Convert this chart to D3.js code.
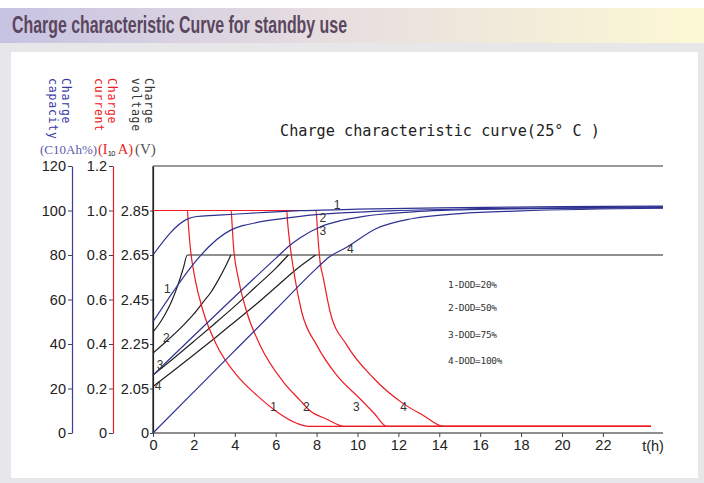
<!DOCTYPE html>
<html><head><meta charset="utf-8">
<script src="https://cdn.jsdelivr.net/npm/d3@7"></script>
<style>html,body{margin:0;padding:0;background:#fff;}svg{display:block;}</style>
</head><body>
<svg id="chart" width="704" height="483"></svg>
<script>
// ---------------- data ----------------
const hourTicks = [0,2,4,6,8,10,12,14,16,18,20,22];
const capacityTicks = [0,20,40,60,80,100,120];
const currentTicks = [0,0.2,0.4,0.6,0.8,1.0,1.2];
const voltageTicks = [0,2.05,2.25,2.45,2.65,2.85];
const legendLabels = ["1-DOD=20%","2-DOD=50%","3-DOD=75%","4-DOD=100%"];
const curveNames = ["1","2","3","4"];

// charge voltage (V) vs time (h)
const voltage1 = [[0,2.304],[0.3,2.34],[0.6,2.385],[0.9,2.44],[1.2,2.51],[1.48,2.59],[1.68,2.65],[24.94,2.65]];
const voltage2 = [[0,2.209],[0.75,2.27],[1.48,2.334],[2.0,2.385],[2.46,2.439],[2.85,2.485],[3.19,2.537],[3.5,2.59],[3.81,2.65]];
const voltage3 = [[0,2.11],[1,2.185],[2,2.262],[3,2.34],[4,2.42],[5,2.505],[6,2.59],[6.62,2.65]];
const voltage4 = [[0,2.059],[1,2.13],[2,2.202],[3,2.275],[4,2.35],[5,2.425],[6,2.505],[7,2.585],[7.95,2.65]];

// charge current (x I10 A) vs time (h)
const current1 = [[0,1],[1.68,1],[1.72,0.95],[1.81,0.846],[2.05,0.696],[2.46,0.545],[3.11,0.396],[4.09,0.26],[5.07,0.17],[6.05,0.096],[7.03,0.044],[7.6,0.03],[24.35,0.03]];
const current2 = [[0,1],[3.82,1],[3.86,0.95],[3.93,0.846],[4.17,0.696],[4.58,0.545],[5.23,0.396],[6.37,0.23],[7.19,0.147],[7.68,0.1],[8.5,0.062],[9.35,0.03],[24.35,0.03]];
const current3 = [[0,1],[6.54,1],[6.58,0.95],[6.7,0.846],[6.94,0.696],[7.27,0.545],[8.0,0.396],[8.98,0.26],[10.1,0.156],[10.8,0.09],[11.43,0.03],[24.35,0.03]];
const current4 = [[0,1],[7.97,1],[8.05,0.9],[8.17,0.77],[8.33,0.696],[8.66,0.545],[9.47,0.396],[10.8,0.245],[12.24,0.132],[13.2,0.08],[14.2,0.03],[24.35,0.03]];

// charge capacity (% C10) vs time (h)
const capacity1 = [[0,80],[1.65,96],[2.14,97.3],[3.0,97.8],[3.77,98.2],[5.5,99.2],[7.2,99.9],[10,100.6],[14,101.2],[20,101.7],[24.94,102]];
const capacity2 = [[0,50],[3.85,91.4],[4.3,93],[4.58,93.6],[5.5,95.3],[7.2,97.4],[9,98.8],[12,100],[16,100.8],[24.94,101.6]];
const capacity3 = [[0,26],[6.0,78.5],[6.7,84.4],[7.2,87.8],[8.17,92.6],[9.2,95.5],[10.3,97.4],[12.7,99.4],[16,100.5],[24.94,101.3]];
const capacity4 = [[0,0],[2,18.5],[4,37],[6,55.5],[8,74],[8.6,79],[9.47,83.5],[10.9,91.8],[12.7,96.4],[15,98.6],[18,99.8],[24.94,101]];

// curve-number label anchors (h, value in own unit)
const voltageLabelPos = [[0.7,2.5],[0.65,2.28],[0.35,2.155],[0.25,2.06]];
const currentLabelPos = [[5.9,0.12],[7.5,0.12],[9.95,0.12],[12.25,0.12]];
const capacityLabelPos = [[9.0,102.7],[8.3,96.5],[8.3,90.8],[9.65,83]];

// ---------------- drawing ----------------
const svg = d3.select("#chart");
const BLUE = "#2e3192", RED = "#ed1c24", BLACK = "#231f20";

const defs = svg.append("defs");
const grad = defs.append("linearGradient").attr("id","band").attr("x1","0").attr("x2","1");
grad.append("stop").attr("offset","0").attr("stop-color","#c6c3e2");
grad.append("stop").attr("offset","0.45").attr("stop-color","#e6dde0");
grad.append("stop").attr("offset","1").attr("stop-color","#fdf8d4");

svg.append("rect").attr("x",0).attr("y",43).attr("width",704).attr("height",440).attr("fill","#e7e7e9");
svg.append("rect").attr("x",0).attr("y",8).attr("width",704).attr("height",35).attr("fill","url(#band)");
svg.append("rect").attr("x",11).attr("y",52).attr("width",687).attr("height",426).attr("fill","#fff");
svg.append("text").attr("x",12).attr("y",33).text("Charge characteristic Curve for standby use")
  .attr("font-family","'Liberation Sans Narrow','Liberation Sans',Arial,sans-serif").attr("font-weight","bold")
  .attr("font-size",23).attr("fill","#5b4660").attr("textLength",335).attr("lengthAdjust","spacingAndGlyphs");

const x = d3.scaleLinear().domain([0,24.94]).range([153,663]);
const yCap = d3.scaleLinear().domain([0,120]).range([433,166]);
const yCur = d3.scaleLinear().domain([0,1.2]).range([433,166]);
const yVol = d3.scaleLinear().domain([0,2.05,2.85,3.05]).range([433,yCap(20),yCap(100),yCap(120)]);

const tickFont = "'Liberation Sans',Arial,sans-serif";
function styleAxis(g, lineColor){
  g.select(".domain").attr("stroke",lineColor).attr("stroke-width",1.2);
  g.selectAll(".tick line").attr("stroke","#444");
  g.selectAll(".tick text").attr("font-family",tickFont).attr("font-size",14.5).attr("fill","#222");
}
// capacity axis
svg.append("g").attr("transform","translate(72,0)")
  .call(d3.axisLeft(yCap).tickValues(capacityTicks).tickSize(4).tickSizeOuter(0).tickPadding(2))
  .call(g=>styleAxis(g,"#3b3b9c"));
// current axis
svg.append("g").attr("transform","translate(113,0)")
  .call(d3.axisLeft(yCur).tickValues(currentTicks).tickSize(4).tickSizeOuter(0).tickPadding(2)
    .tickFormat(d=>d===0?"0":d.toFixed(1)))
  .call(g=>styleAxis(g,RED));
// voltage axis (frame left)
svg.append("g").attr("transform","translate(153,0)")
  .call(d3.axisLeft(yVol).tickValues(voltageTicks).tickSize(3).tickSizeOuter(0).tickPadding(1)
    .tickFormat(d=>d===0?"0":d.toFixed(2)))
  .call(g=>styleAxis(g,BLACK));
svg.append("line").attr("x1",153).attr("x2",153).attr("y1",166).attr("y2",433).attr("stroke",BLACK).attr("stroke-width",1.2);
// top frame line
svg.append("line").attr("x1",153).attr("x2",663).attr("y1",yCap(120)).attr("y2",yCap(120)).attr("stroke","#777").attr("stroke-width",1.3);
// x axis
svg.append("g").attr("transform","translate(0,433)")
  .call(d3.axisBottom(x).tickValues(hourTicks).tickSize(4).tickSizeOuter(0).tickPadding(3))
  .call(g=>{styleAxis(g,BLACK); g.select(".domain").attr("d","M153,0H663");});
svg.append("text").attr("x",653).attr("y",451).attr("text-anchor","middle").text("t(h)")
  .attr("font-family",tickFont).attr("font-size",14.5).attr("fill","#222");

// axis headers (rotated)
const headFont = "'DejaVu Sans Mono',monospace";
function vtext(tx, ty, str, color){
  svg.append("text").attr("transform",`translate(${tx},${ty}) rotate(90)`).text(str)
    .attr("dominant-baseline","central").attr("font-family",headFont).attr("font-size",11.5)
    .attr("letter-spacing",0.8).attr("fill",color);
}
vtext(66,78,"Charge","#3b3ba6"); vtext(53,78,"capacity","#3b3ba6");
vtext(112,78,"Charge",RED); vtext(99,78,"current",RED);
vtext(149,78,"Charge","#333"); vtext(136,78,"voltage","#333");

const serif = "'Liberation Serif','Times New Roman',serif";
svg.append("text").attr("x",40).attr("y",154).text("(C10Ah%)").attr("font-family",serif).attr("font-size",13).attr("fill","#5a5aad");
const ct = svg.append("text").attr("x",98).attr("y",154).attr("font-family",serif).attr("font-size",14.5).attr("fill",RED);
ct.append("tspan").text("(I");
ct.append("tspan").text("10").attr("font-family",tickFont).attr("font-size",7.5).attr("fill","#222").attr("dy",2).attr("letter-spacing",-0.5);
ct.append("tspan").text(" A)").attr("dy",-2);
svg.append("text").attr("x",135).attr("y",154).text("(V)").attr("font-family",serif).attr("font-size",15).attr("fill","#555");

// subtitle
svg.append("text").attr("x",280).attr("y",136).text("Charge characteristic curve(25° C )")
  .attr("font-family","'DejaVu Sans Mono',monospace").attr("font-size",16).attr("fill","#222")
  .attr("textLength",320).attr("lengthAdjust","spacingAndGlyphs");

// legend
svg.append("g").selectAll("text").data(legendLabels).join("text")
  .attr("x",448).attr("y",(d,i)=>[288,311,338,364][i]).text(d=>d)
  .attr("font-family","'DejaVu Sans Mono',monospace").attr("font-size",9.5).attr("fill","#333")
  .attr("letter-spacing",-0.3);

// curves
const lineCap = d3.line().x(d=>x(d[0])).y(d=>yCap(d[1])).curve(d3.curveMonotoneX);
const lineCur = d3.line().x(d=>x(d[0])).y(d=>yCur(d[1])).curve(d3.curveMonotoneX);
const lineVol = d3.line().x(d=>x(d[0])).y(d=>yVol(d[1])).curve(d3.curveMonotoneX);

const g = svg.append("g").attr("fill","none").attr("stroke-width",1.2);
[voltage1,voltage2,voltage3,voltage4].forEach(s=>g.append("path").attr("d",lineVol(s)).attr("stroke",BLACK));
[current1,current2,current3,current4].forEach(s=>g.append("path").attr("d",lineCur(s)).attr("stroke",RED));
[capacity1,capacity2,capacity3,capacity4].forEach(s=>g.append("path").attr("d",lineCap(s)).attr("stroke",BLUE));

// curve number labels
const lab = svg.append("g").attr("font-family",tickFont).attr("font-size",12).attr("fill","#333").attr("text-anchor","middle");
voltageLabelPos.forEach((p,i)=>lab.append("text").attr("x",x(p[0])).attr("y",yVol(p[1])).attr("dy","0.35em").text(curveNames[i]));
currentLabelPos.forEach((p,i)=>lab.append("text").attr("x",x(p[0])).attr("y",yCur(p[1])).attr("dy","0.35em").text(curveNames[i]));
capacityLabelPos.forEach((p,i)=>lab.append("text").attr("x",x(p[0])).attr("y",yCap(p[1])).attr("dy","0.35em").text(curveNames[i]));
</script>
</body></html>
